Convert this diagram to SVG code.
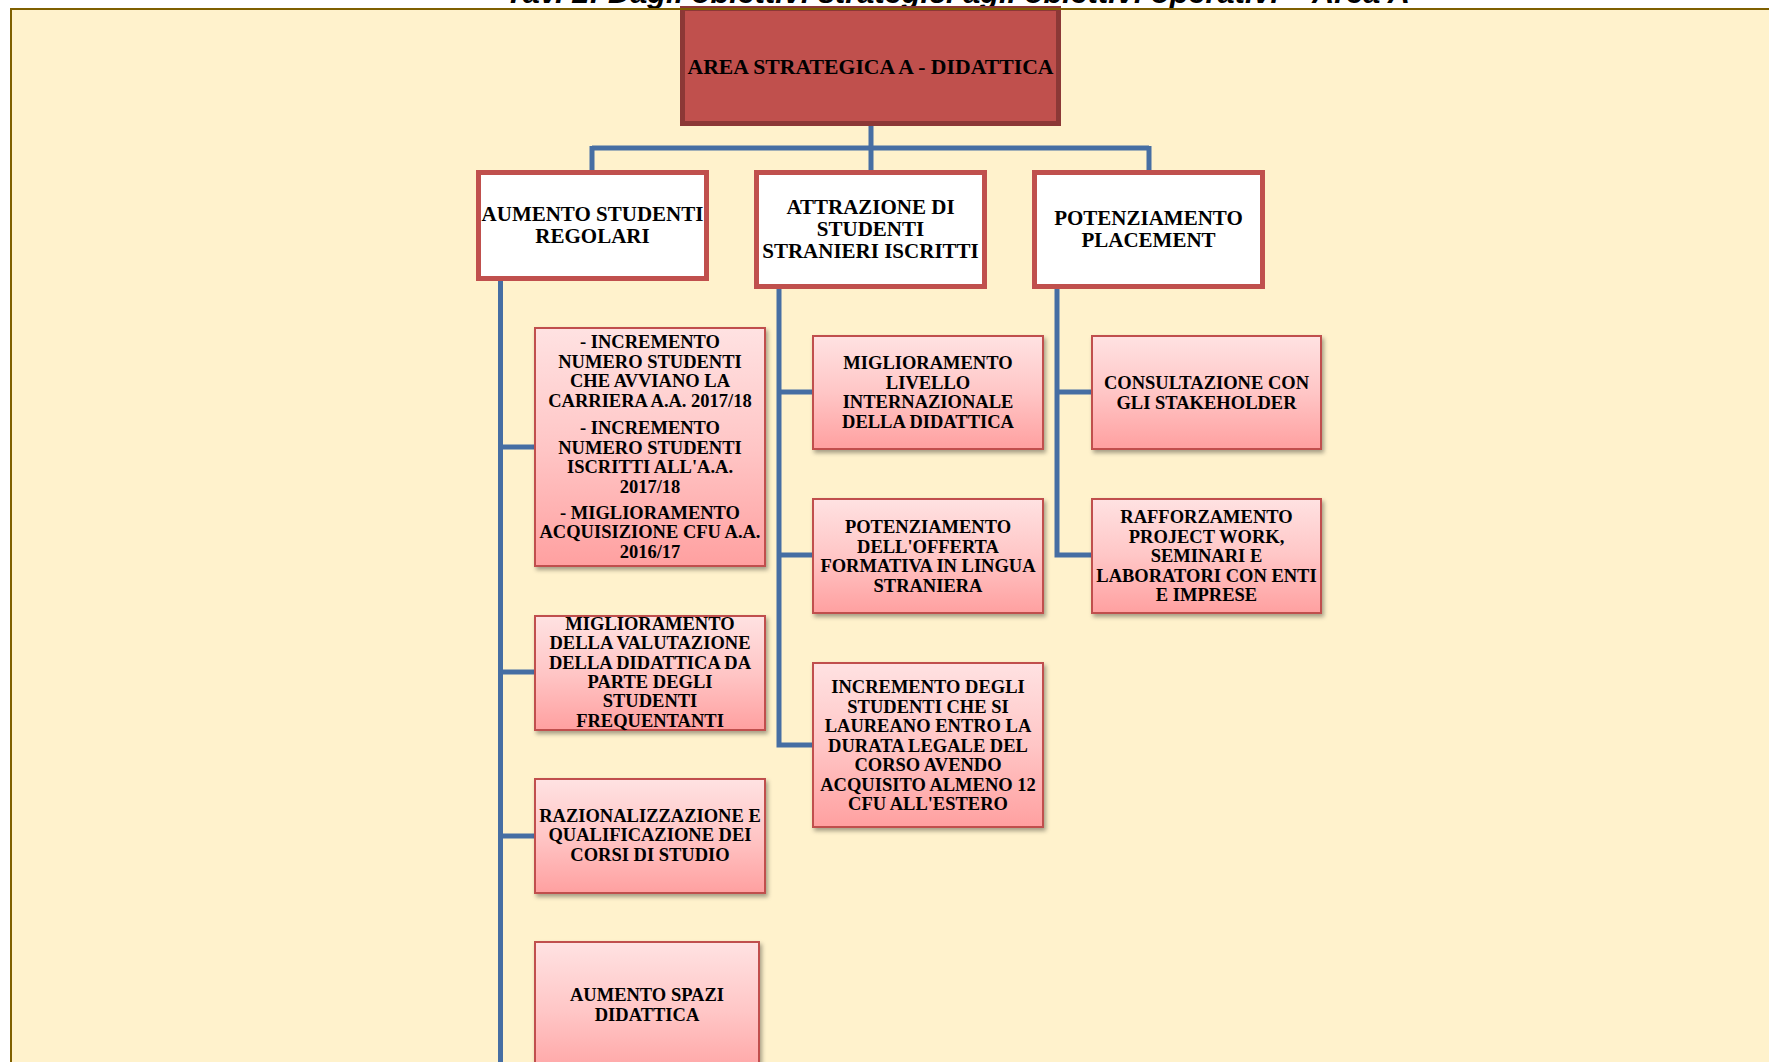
<svg xmlns="http://www.w3.org/2000/svg" width="1769" height="1062" viewBox="0 0 1769 1062">
  <defs>
    <linearGradient id="pinkFill" x1="0" y1="0" x2="0" y2="1">
      <stop offset="0" stop-color="#FFE2E2"/>
      <stop offset="0.5" stop-color="#FFC6C6"/>
      <stop offset="1" stop-color="#FFA0A0"/>
    </linearGradient>
    <filter id="shadow" x="-10%" y="-10%" width="125%" height="125%">
      <feDropShadow dx="2" dy="3" stdDeviation="2" flood-color="#000" flood-opacity="0.35"/>
    </filter>
    <style>
      .title { font-family: "Liberation Sans", Arial, sans-serif; font-weight: bold; font-style: italic; font-size: 30px; fill: #000; }
      .root rect { fill: #C0504D; stroke: #8C3836; stroke-width: 5; }
      .goal rect { fill: #FFFFFF; stroke: #C0504D; stroke-width: 5; }
      .obj rect { fill: url(#pinkFill); stroke: #C0504D; stroke-width: 2; filter: url(#shadow); }
      text.lbl { font-family: "Liberation Serif", "Times New Roman", serif; font-weight: bold; fill: #000; text-anchor: middle; }
      .root text.lbl { font-size: 21.5px; }
      .goal text.lbl { font-size: 21px; }
      .obj text.lbl { font-size: 18.5px; }
      .links path { fill: none; stroke: #466EA3; stroke-width: 5; }
    </style>
  </defs>

  <!-- page -->
  <rect x="0" y="0" width="1769" height="1062" fill="#FFFFFF"/>
  <text class="title" x="505" y="3" textLength="905" lengthAdjust="spacingAndGlyphs">Tav. 2: Dagli obiettivi strategici agli obiettivi operativi – Area A</text>

  <!-- frame -->
  <rect x="11" y="9" width="1770" height="1070" fill="#FFF2CC"/>
  <line x1="11" y1="9" x2="11" y2="1062" stroke="#7F6000" stroke-width="2"/>

  <!-- connectors -->
  <g id="connectors" class="links">
    <path d="M871 126 V148 M592 148 H1149 M592 146 V172 M871 148 V172 M1149 146 V172"/>
    <path d="M500.5 281 V1062 M500.5 447 H535 M500.5 672 H535 M500.5 836 H535"/>
    <path d="M779 289 V745 H813 M779 392 H813 M779 555 H813"/>
    <path d="M1057 289 V555 H1092 M1057 392 H1092"/>
  </g>

  <!-- root -->
  <g id="area-a" class="root">
    <rect x="682.5" y="8.5" width="376" height="115"/>
    <text class="lbl" x="870.5" y="74" textLength="366" lengthAdjust="spacingAndGlyphs">AREA STRATEGICA A - DIDATTICA</text>
  </g>

  <!-- frame top edge -->
  <line x1="10" y1="9" x2="1769" y2="9" stroke="#7F6000" stroke-width="2"/>

  <!-- strategic goals -->
  <g id="goal-studenti-regolari" class="goal">
    <rect x="478.5" y="172.5" width="228" height="106"/>
    <text class="lbl" x="592.5" y="221">AUMENTO STUDENTI</text>
    <text class="lbl" x="592.5" y="243">REGOLARI</text>
  </g>
  <g id="goal-studenti-stranieri" class="goal">
    <rect x="756.5" y="172.5" width="228" height="114"/>
    <text class="lbl" x="870.5" y="214">ATTRAZIONE DI</text>
    <text class="lbl" x="870.5" y="236">STUDENTI</text>
    <text class="lbl" x="870.5" y="258">STRANIERI ISCRITTI</text>
  </g>
  <g id="goal-placement" class="goal">
    <rect x="1034.5" y="172.5" width="228" height="114"/>
    <text class="lbl" x="1148.5" y="225">POTENZIAMENTO</text>
    <text class="lbl" x="1148.5" y="247">PLACEMENT</text>
  </g>

  <!-- operational objectives: column 1 -->
  <g id="obj-incremento-studenti" class="obj">
    <rect x="535" y="328" width="230" height="238"/>
    <text class="lbl" x="650" y="348">- INCREMENTO</text>
    <text class="lbl" x="650" y="367.5">NUMERO STUDENTI</text>
    <text class="lbl" x="650" y="387">CHE AVVIANO LA</text>
    <text class="lbl" x="650" y="406.5">CARRIERA A.A. 2017/18</text>
    <text class="lbl" x="650" y="434">- INCREMENTO</text>
    <text class="lbl" x="650" y="453.5">NUMERO STUDENTI</text>
    <text class="lbl" x="650" y="473">ISCRITTI ALL'A.A.</text>
    <text class="lbl" x="650" y="492.5">2017/18</text>
    <text class="lbl" x="650" y="518.5">- MIGLIORAMENTO</text>
    <text class="lbl" x="650" y="538">ACQUISIZIONE CFU A.A.</text>
    <text class="lbl" x="650" y="557.5">2016/17</text>
  </g>
  <g id="obj-valutazione-didattica" class="obj">
    <rect x="535" y="616" width="230" height="114"/>
    <text class="lbl" x="650" y="630">MIGLIORAMENTO</text>
    <text class="lbl" x="650" y="649.3">DELLA VALUTAZIONE</text>
    <text class="lbl" x="650" y="668.6">DELLA DIDATTICA DA</text>
    <text class="lbl" x="650" y="687.9">PARTE DEGLI</text>
    <text class="lbl" x="650" y="707.2">STUDENTI</text>
    <text class="lbl" x="650" y="726.5">FREQUENTANTI</text>
  </g>
  <g id="obj-razionalizzazione" class="obj">
    <rect x="535" y="779" width="230" height="114"/>
    <text class="lbl" x="650" y="822">RAZIONALIZZAZIONE E</text>
    <text class="lbl" x="650" y="841.3">QUALIFICAZIONE DEI</text>
    <text class="lbl" x="650" y="860.6">CORSI DI STUDIO</text>
  </g>
  <g id="obj-spazi-didattica" class="obj">
    <rect x="535" y="942" width="224" height="140"/>
    <text class="lbl" x="647" y="1001">AUMENTO SPAZI</text>
    <text class="lbl" x="647" y="1020.5">DIDATTICA</text>
  </g>

  <!-- operational objectives: column 2 -->
  <g id="obj-livello-internazionale" class="obj">
    <rect x="813" y="336" width="230" height="113"/>
    <text class="lbl" x="928" y="369">MIGLIORAMENTO</text>
    <text class="lbl" x="928" y="388.5">LIVELLO</text>
    <text class="lbl" x="928" y="408">INTERNAZIONALE</text>
    <text class="lbl" x="928" y="427.5">DELLA DIDATTICA</text>
  </g>
  <g id="obj-offerta-lingua" class="obj">
    <rect x="813" y="499" width="230" height="114"/>
    <text class="lbl" x="928" y="533">POTENZIAMENTO</text>
    <text class="lbl" x="928" y="552.5">DELL'OFFERTA</text>
    <text class="lbl" x="928" y="572">FORMATIVA IN LINGUA</text>
    <text class="lbl" x="928" y="591.5">STRANIERA</text>
  </g>
  <g id="obj-cfu-estero" class="obj">
    <rect x="813" y="663" width="230" height="164"/>
    <text class="lbl" x="928" y="693">INCREMENTO DEGLI</text>
    <text class="lbl" x="928" y="712.5">STUDENTI CHE SI</text>
    <text class="lbl" x="928" y="732">LAUREANO ENTRO LA</text>
    <text class="lbl" x="928" y="751.5">DURATA LEGALE DEL</text>
    <text class="lbl" x="928" y="771">CORSO AVENDO</text>
    <text class="lbl" x="928" y="790.5">ACQUISITO ALMENO 12</text>
    <text class="lbl" x="928" y="810">CFU ALL'ESTERO</text>
  </g>

  <!-- operational objectives: column 3 -->
  <g id="obj-stakeholder" class="obj">
    <rect x="1092" y="336" width="229" height="113"/>
    <text class="lbl" x="1206.5" y="389">CONSULTAZIONE CON</text>
    <text class="lbl" x="1206.5" y="408.5">GLI STAKEHOLDER</text>
  </g>
  <g id="obj-project-work" class="obj">
    <rect x="1092" y="499" width="229" height="114"/>
    <text class="lbl" x="1206.5" y="523">RAFFORZAMENTO</text>
    <text class="lbl" x="1206.5" y="542.5">PROJECT WORK,</text>
    <text class="lbl" x="1206.5" y="562">SEMINARI E</text>
    <text class="lbl" x="1206.5" y="581.5">LABORATORI CON ENTI</text>
    <text class="lbl" x="1206.5" y="601">E IMPRESE</text>
  </g>
</svg>
